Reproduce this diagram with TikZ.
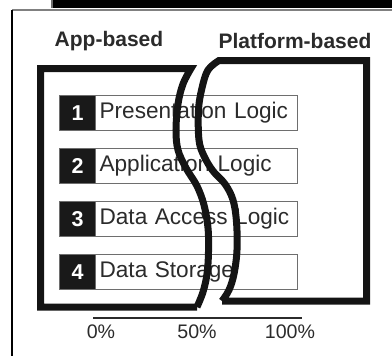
\documentclass[tikz,border=0pt]{standalone}
\usepackage{fontspec}
\setmainfont{Liberation Sans}
\definecolor{ink}{HTML}{2B2B2B}
\definecolor{rim}{HTML}{6E6E6E}
\begin{document}
\begin{tikzpicture}[x=1pt, y=-1pt,
  numbox/.style={draw=rim, line width=1.2pt, fill=black!90, text=white, minimum width=36pt,
    minimum height=35pt, inner sep=0pt, anchor=north west,
    font=\fontsize{21.5}{24}\selectfont\bfseries},
  labelbox/.style={draw=rim, line width=1.2pt, fill=white, text=ink, minimum width=202pt,
    minimum height=35pt, inner sep=4pt, anchor=north west, text width=194pt, align=left,
    font=\fontsize{22.6}{26}\selectfont},
  heading/.style={text=ink, inner sep=0pt, font=\fontsize{21}{24}\selectfont\bfseries},
  tick/.style={text=ink, inner sep=0pt, font=\fontsize{19.6}{22}\selectfont},
  wall/.style={draw=black!92, line width=7pt, line join=miter}]
\useasboundingbox (0,0) rectangle (392,356);

% page edge and top bar
\fill[black] (52,0) rectangle (392,7.5);
\draw[rim, line width=1.2pt] (52,0) -- (52,7.5);
\draw[gray, line width=1.5pt] (12,10) -- (392,10);
\draw[black, line width=2pt] (12,10) -- (12,356);

% column headings
\node[heading] (hApp) at (109,41) {App-based};
\node[heading] (hPlat) at (295,41) {Platform-based};

% the four layers
\foreach \n/\t/\y in {1/Presentation Logic/95, 2/Application Logic/148,
                      3/Data Access Logic/201, 4/Data Storage/254} {
  \node[labelbox] (lab\n) at (95,\y) {\t};
  \node[numbox] (num\n) at (59,\y) {\n};
}

% app-based frame with torn right side
\draw[wall] (197,307) -- (40.5,307) -- (40.5,68.5) -- (191,68.5)
  -- plot[smooth, tension=0.6] coordinates {(191,68.5) (183,84) (178,104) (176,130)
     (178,150) (186,168) (197,186) (204,205) (208,228) (208.5,252) (207,274)
     (203,292) (197,307)};

% platform-based frame with torn left side
\draw[wall] (222,301) -- (366.5,301) -- (366.5,60.5) -- (219,60.5)
  -- plot[smooth, tension=0.6] coordinates {(219,60.5) (208,70) (202,88) (198.5,110)
     (199,140) (204,156) (213,171) (225,184) (233,200) (236.5,222) (237,250)
     (234,274) (229,290) (222,301)};

% share axis
\draw[ink, line width=1.4pt] (93,318) -- (302,318);
\node[tick] (p0) at (101,332) {0\%};
\node[tick] (p50) at (197,332) {50\%};
\node[tick] (p100) at (290,332) {100\%};
\end{tikzpicture}
\end{document}
